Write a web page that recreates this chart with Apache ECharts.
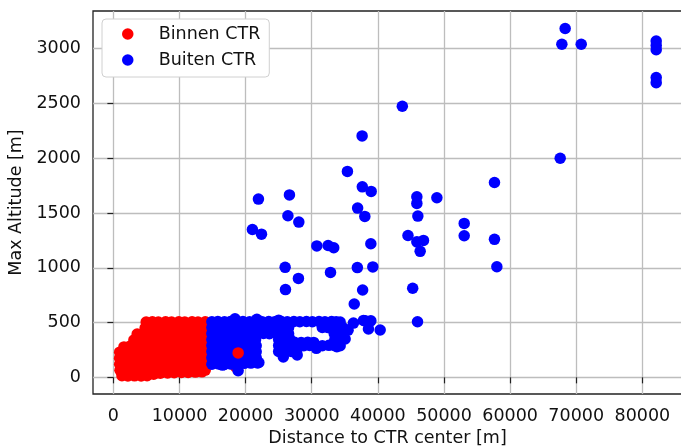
<!DOCTYPE html>
<html>
<head>
<meta charset="utf-8">
<script src="https://cdn.jsdelivr.net/npm/echarts@6/dist/echarts.min.js"></script>
<style>
  html, body { margin: 0; padding: 0; background: #fff; }
  #chart { width: 681px; height: 448px; }
</style>
</head>
<body>
<div id="chart"></div>
<script>
// Tick values shown on each axis
const xTicks = [0, 10000, 20000, 30000, 40000, 50000, 60000, 70000, 80000];
const yTicks = [0, 500, 1000, 1500, 2000, 2500, 3000];

// Flights inside the CTR: [distance to CTR center (m), max altitude (m)]
const binnenCTR = [
  [4960, 505], [5900, 508], [6800, 505], [7900, 508], [8800, 505], [9900, 508], [10800, 505], [11900, 508], [12800, 505], [13900, 508],
  [4800, 450], [5700, 452], [6700, 448], [7600, 450], [8700, 452], [9600, 448], [10700, 450], [11600, 452], [12700, 448], [13700, 450],
  [3600, 396], [4400, 395], [5300, 392], [6300, 398], [7200, 394], [8300, 396], [9200, 393], [10300, 397], [11200, 395], [12300, 392], [13300, 396], [14000, 394],
  [3100, 340], [4100, 342], [5100, 338], [6100, 341], [7000, 339], [8000, 343], [9100, 337], [10000, 340], [11100, 342], [12000, 338], [13100, 341], [13900, 339],
  [1600, 278], [2500, 285], [3400, 287], [4300, 283], [5400, 286], [6400, 284], [7400, 288], [8300, 282], [9400, 285], [10400, 287], [11300, 283], [12400, 286], [13400, 284],
  [950, 230], [1900, 232], [2900, 228], [3800, 231], [4800, 229], [5700, 233], [6700, 230], [7700, 227], [8700, 232], [9700, 229], [10600, 231], [11700, 228], [12600, 233], [13700, 230],
  [940, 175], [1800, 176], [2800, 173], [3700, 178], [4700, 174], [5600, 177], [6600, 172], [7600, 176], [8600, 175], [9600, 178], [10500, 173], [11600, 175], [12600, 177], [13800, 174],
  [950, 120], [1900, 122], [2900, 118], [3900, 121], [4800, 119], [5800, 123], [6700, 120], [7800, 117], [8700, 122], [9800, 119], [10700, 121], [11800, 118], [12800, 120], [13800, 122],
  [1000, 65], [2000, 67], [3000, 63], [4000, 66], [5000, 64], [5900, 68], [6900, 65], [7900, 62], [8900, 66], [9900, 64], [10800, 67], [11900, 63], [12900, 65], [13900, 66],
  [1300, 15], [2200, 12], [3200, 14], [4200, 12], [5100, 15], [6100, 28], [7100, 38], [8200, 40], [9200, 42], [10300, 44], [11300, 45], [12400, 48], [13400, 50],
  [18300, 465], [18500, 95], [15600, 300]
];

// A few inside-CTR flights that sit above the outside-CTR cloud
const binnenCTRTop = [
  [18870, 223]
];

// Flights outside the CTR
const buitenCTR = [
  // dense band up to 500 m
  [14900, 508], [15800, 510], [16800, 507], [17700, 510], [18700, 508], [19600, 510], [20600, 507], [21500, 510], [22500, 508], [23500, 510],
  [24400, 507], [25400, 510], [26300, 508], [27300, 510], [28200, 507], [29200, 510], [30100, 508], [31100, 510], [32000, 507], [33000, 510], [33700, 508], [34300, 505],
  [18400, 535], [21700, 530], [25000, 522],
  [14900, 455], [15900, 453], [16800, 456], [17800, 454], [18800, 455], [19800, 452], [20700, 456], [21700, 454], [22600, 455], [23600, 453],
  [24600, 456], [25500, 454], [26500, 455], [31600, 456], [32500, 454], [33400, 455], [34300, 453],
  [14900, 400], [15800, 402], [16900, 398], [17900, 401], [18800, 399], [19800, 403], [20700, 400], [21700, 398], [22700, 401], [23600, 399],
  [24600, 402], [25600, 400], [26500, 398], [33400, 401], [34200, 399],
  [14900, 345], [15900, 347], [16800, 343], [17800, 346], [18800, 344], [19700, 348], [20700, 345], [21500, 343], [25000, 346], [25900, 344], [26700, 347],
  [27400, 320], [28400, 318], [29400, 321], [30300, 319], [33500, 345], [34400, 343],
  [14900, 290], [15800, 292], [16800, 288], [17800, 291], [18800, 289], [19700, 293], [20700, 290], [21600, 288], [25000, 291], [25900, 289],
  [26900, 292], [27800, 290], [28800, 288], [29700, 291], [30700, 265], [31600, 289], [32600, 292], [33500, 290], [33800, 280], [34300, 288],
  [14900, 235], [15800, 237], [16800, 233], [17800, 236], [18800, 234], [19700, 238], [20700, 235], [21600, 233], [25000, 236], [25900, 234], [26900, 237], [27700, 235],
  [14900, 180], [15800, 182], [16800, 178], [17800, 181], [18800, 179], [19700, 183], [20700, 180], [21600, 178], [25700, 186], [27800, 204],
  [14900, 120], [15900, 122], [16800, 118], [17800, 121], [18900, 119], [19800, 128], [20800, 130], [21800, 132],
  [16500, 112], [18870, 60], [22000, 135],
  [36310, 495], [37830, 520], [38080, 516], [38940, 516], [38580, 441], [40350, 432], [34300, 395], [35050, 350], [34800, 450], [35500, 430],
  // sparse points above 500 m
  [21940, 1627], [26630, 1665], [26400, 1475], [28050, 1417], [21030, 1350], [22400, 1307],
  [30770, 1200], [32480, 1203], [33330, 1183], [25980, 1004], [27990, 903], [26030, 801], [32840, 958],
  [35400, 1880], [37650, 1739], [38990, 1697], [36940, 1545], [38030, 1469], [38940, 1220], [37620, 2204],
  [36900, 1002], [39240, 1008], [37700, 797], [36430, 669],
  [43700, 2475], [57640, 1779], [45900, 1648], [45900, 1588], [48930, 1639], [46050, 1472],
  [53060, 1405], [53060, 1292], [44560, 1295], [45900, 1237], [46900, 1250], [46400, 1150],
  [57640, 1260], [58000, 1009], [45270, 813], [46000, 507],
  [68330, 3184], [67830, 3041], [70760, 3041], [82100, 3070], [82100, 3030], [82100, 2990],
  [82100, 2737], [82100, 2690], [67580, 2000]
];

const FONT = 'DejaVu Sans';
const FS = 17.5;
const TEXT = '#111111';
const GRID = '#bdbdbd';

const chart = echarts.init(document.getElementById('chart'), null, { renderer: 'canvas' });

chart.setOption({
  animation: false,
  backgroundColor: '#ffffff',
  textStyle: { fontFamily: FONT },
  grid: {
    left: 93, top: 11, width: 589, height: 383,
    outerBoundsMode: 'none', containLabel: false,
    show: true, borderColor: '#222', borderWidth: 1.3, backgroundColor: 'transparent'
  },
  legend: {
    orient: 'vertical',
    left: 102, top: 19,
    padding: [5, 9, 7, 20],
    itemGap: 6,
    itemWidth: 14, itemHeight: 11.5,
    icon: 'circle',
    backgroundColor: '#ffffff',
    borderColor: '#d0d0d0', borderWidth: 1, borderRadius: 4,
    textStyle: { fontFamily: FONT, fontSize: FS, color: TEXT, lineHeight: 20, padding: [0, 0, 0, 19] },
    data: ['Binnen CTR', 'Buiten CTR']
  },
  xAxis: {
    type: 'value',
    min: -3080, max: 86000, splitNumber: 9,
    name: 'Distance to CTR center [m]',
    nameLocation: 'middle', nameGap: 35,
    nameTextStyle: { fontFamily: FONT, fontSize: FS, color: TEXT },
    axisLine: { show: false },
    axisTick: { show: true, length: 6, lineStyle: { color: '#222', width: 1.2 }, customValues: xTicks },
    axisLabel: {
      customValues: xTicks, margin: 13,
      fontFamily: FONT, fontSize: FS, color: TEXT, formatter: v => String(v)
    },
    splitLine: { show: true, lineStyle: { color: GRID, width: 1.3 } }
  },
  yAxis: {
    type: 'value',
    min: -152, max: 3344, splitNumber: 7,
    name: 'Max Altitude [m]',
    nameLocation: 'middle', nameGap: 61,
    nameTextStyle: { fontFamily: FONT, fontSize: FS, color: TEXT },
    axisLine: { show: false },
    axisTick: { show: true, length: 6, lineStyle: { color: '#222', width: 1.2 }, customValues: yTicks },
    axisLabel: {
      customValues: yTicks, margin: 12,
      fontFamily: FONT, fontSize: FS, color: TEXT, formatter: v => String(v)
    },
    splitLine: { show: true, lineStyle: { color: GRID, width: 1.3 } }
  },
  series: [
    {
      name: 'Binnen CTR', type: 'scatter', z: 2,
      symbol: 'circle', symbolSize: 11.5,
      itemStyle: { color: '#ff0000', opacity: 1 },
      data: binnenCTR
    },
    {
      name: 'Buiten CTR', type: 'scatter', z: 3,
      symbol: 'circle', symbolSize: 11.5,
      itemStyle: { color: '#0000ff', opacity: 1 },
      data: buitenCTR
    },
    {
      name: 'Binnen CTR', type: 'scatter', z: 4,
      symbol: 'circle', symbolSize: 11.5,
      itemStyle: { color: '#ff0000', opacity: 1 },
      data: binnenCTRTop
    }
  ]
});
</script>
</body>
</html>
